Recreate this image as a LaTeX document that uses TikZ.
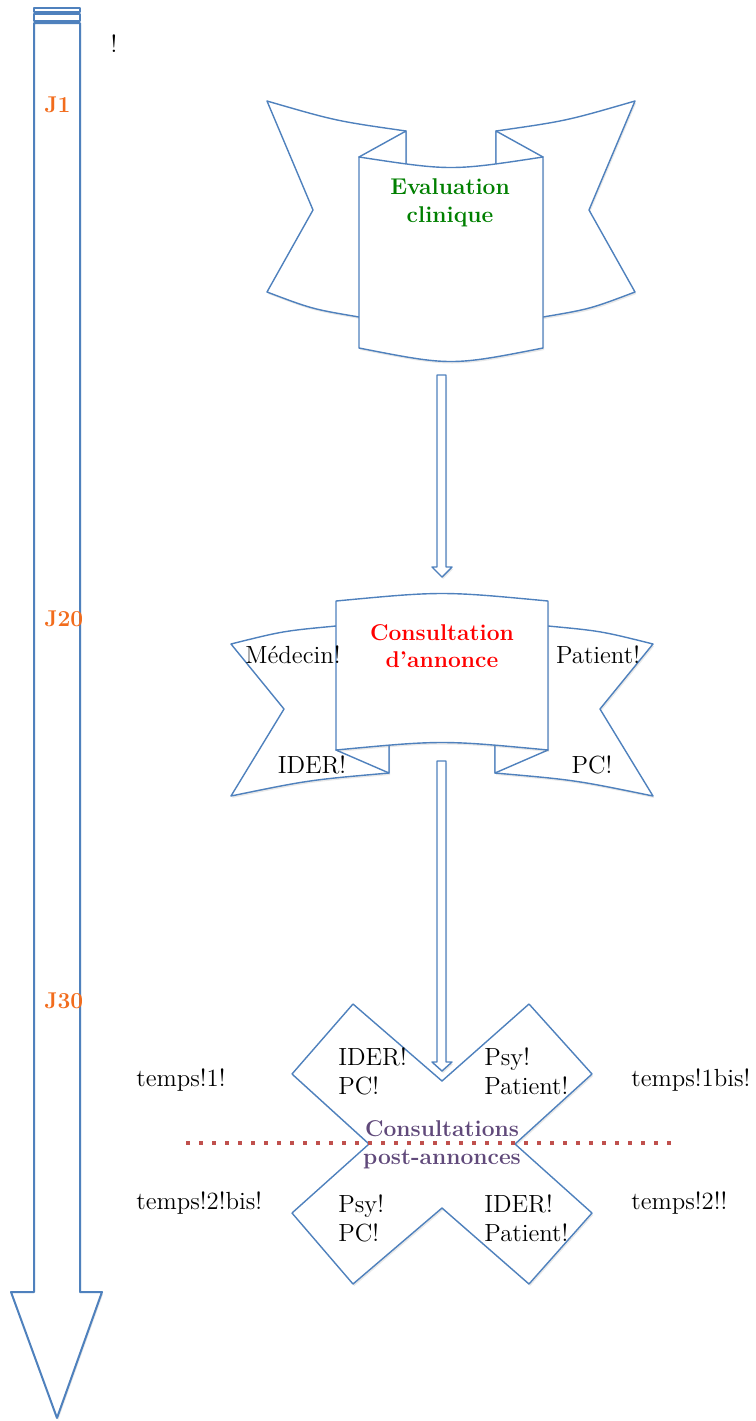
\documentclass[tikz,border=0pt]{standalone}
\usetikzlibrary{shadows}
\definecolor{bleuruban}{RGB}{79,129,189}
\definecolor{orangej}{RGB}{242,108,28}
\definecolor{verteval}{RGB}{0,128,0}
\definecolor{rougeann}{RGB}{255,0,0}
\definecolor{violetcons}{RGB}{96,73,122}
\definecolor{rougepts}{RGB}{192,80,77}
\tikzset{
  ruban/.style={draw=bleuruban, fill=white, line width=0.7pt, line join=round},
  ombre/.style={drop shadow={opacity=0.18, shadow xshift=0.6pt, shadow yshift=-1pt}},
  lbl/.style={font=\fontsize{12.4}{14.5}\selectfont, inner sep=0pt},
  titre/.style={font=\fontsize{11.4}{13.8}\selectfont\bfseries, align=center, inner sep=0pt},
  jour/.style={font=\fontsize{11.4}{13}\selectfont\bfseries, text=orangej, anchor=west, inner sep=0pt},
  pointille/.style={draw=rougepts, line width=2pt, dash pattern=on 2pt off 4.5pt},
}
\begin{document}
\begin{tikzpicture}[x=0.5pt, y=-0.5pt]
    \useasboundingbox (0,0) rectangle (756,1421);

    % Axe du temps
    \draw[ruban, line width=1pt] (34,8) rectangle (80,12);
    \draw[ruban, line width=1pt] (34,14) rectangle (80,21);
    \draw[ruban, ombre, line width=1pt] (34,23) -- (80,23) -- (80,1292) -- (102,1292)
      -- (57,1418) -- (11,1292) -- (34,1292) -- cycle;
    \node[lbl] (excl) at (114,44) {!};
    \node[jour] (j1) at (44,105) {J1};
    \node[jour] (j20) at (44,619) {J20};
    \node[jour] (j30) at (44,1001) {J30};

    % Ruban 1 : evaluation clinique
    \draw[ruban, ombre] (267,101) .. controls (336,121) .. (406,131) -- (406,300) -- (359,317)
      .. controls (312,309) .. (267,292) -- (313,210) -- cycle;
    \draw[ruban, ombre] (635,101) .. controls (566,121) .. (496,131) -- (496,300) -- (543,317)
      .. controls (590,309) .. (635,292) -- (589,210) -- cycle;
    \draw[ruban] (406,131) -- (359,157) -- (406,172) -- cycle;
    \draw[ruban] (496,131) -- (543,157) -- (496,172) -- cycle;
    \draw[ruban, ombre] (359,157) .. controls (451,171) .. (543,157) -- (543,348)
      .. controls (451,366) .. (359,348) -- cycle;
    \node[titre, text=verteval] (eval) at (450,203) {Evaluation\\clinique};

    % Fleche 1
    \draw[ruban, ombre] (437,375) -- (446,375) -- (446,567) -- (452,567) -- (442,577)
      -- (432,567) -- (437,567) -- cycle;

    % Ruban 2 : consultation d'annonce
    \draw[ruban, ombre] (231,644) .. controls (283,631) .. (336,626) -- (389,626) -- (389,773)
      .. controls (309,780) .. (231,796) -- (284,709) -- cycle;
    \draw[ruban, ombre] (653,644) .. controls (601,631) .. (548,626) -- (495,626) -- (495,773)
      .. controls (575,780) .. (653,796) -- (600,709) -- cycle;
    \draw[ruban] (389,773) -- (336,750) -- (389,738) -- cycle;
    \draw[ruban] (495,773) -- (548,750) -- (495,738) -- cycle;
    \draw[ruban, ombre] (336,601) .. controls (442,591) .. (548,601) -- (548,750)
      .. controls (442,740) .. (336,750) -- cycle;
    \node[titre, text=rougeann] (annonce) at (442,646) {Consultation\\d'annonce};
    \node[lbl] (medecin) at (293,655) {Médecin!};
    \node[lbl] (patient) at (598,655) {Patient!};
    \node[lbl] (ider) at (312,765) {IDER!};
    \node[lbl] (pc) at (592,765) {PC!};

    % Croix : consultations post-annonces
    \draw[ruban, ombre] (353,1004) -- (442,1081) -- (529,1004) -- (592,1074) -- (515,1144)
      -- (592,1213) -- (529,1284) -- (442,1208) -- (353,1284) -- (292,1213) -- (369,1144)
      -- (292,1074) -- cycle;

    % Fleche 2
    \draw[ruban, ombre] (437,761) -- (446,761) -- (446,1062) -- (452,1062) -- (442,1071)
      -- (432,1062) -- (437,1062) -- cycle;

    % Ligne pointillee
    \coordinate (pg) at (186,1143);
    \coordinate (pd) at (680,1143);
    \draw[pointille] (pg) -- (pd);

    \node[lbl, align=left, anchor=west] (hg) at (338,1071) {IDER!\\PC!};
    \node[lbl, align=left, anchor=west] (hd) at (484,1071) {Psy!\\Patient!};
    \node[lbl, align=left, anchor=west] (bg) at (338,1218) {Psy!\\PC!};
    \node[lbl, align=left, anchor=west] (bd) at (484,1218) {IDER!\\Patient!};
    \node[titre, text=violetcons] (post) at (442,1145) {Consultations\\post-annonces};

    % Temps
    \node[lbl, anchor=west] (t1) at (136,1080) {temps!1!};
    \node[lbl, anchor=west] (t1b) at (631,1080) {temps!1bis!};
    \node[lbl, anchor=west] (t2b) at (136,1203) {temps!2!bis!};
    \node[lbl, anchor=west] (t2) at (631,1203) {temps!2!!};
\end{tikzpicture}
\end{document}
